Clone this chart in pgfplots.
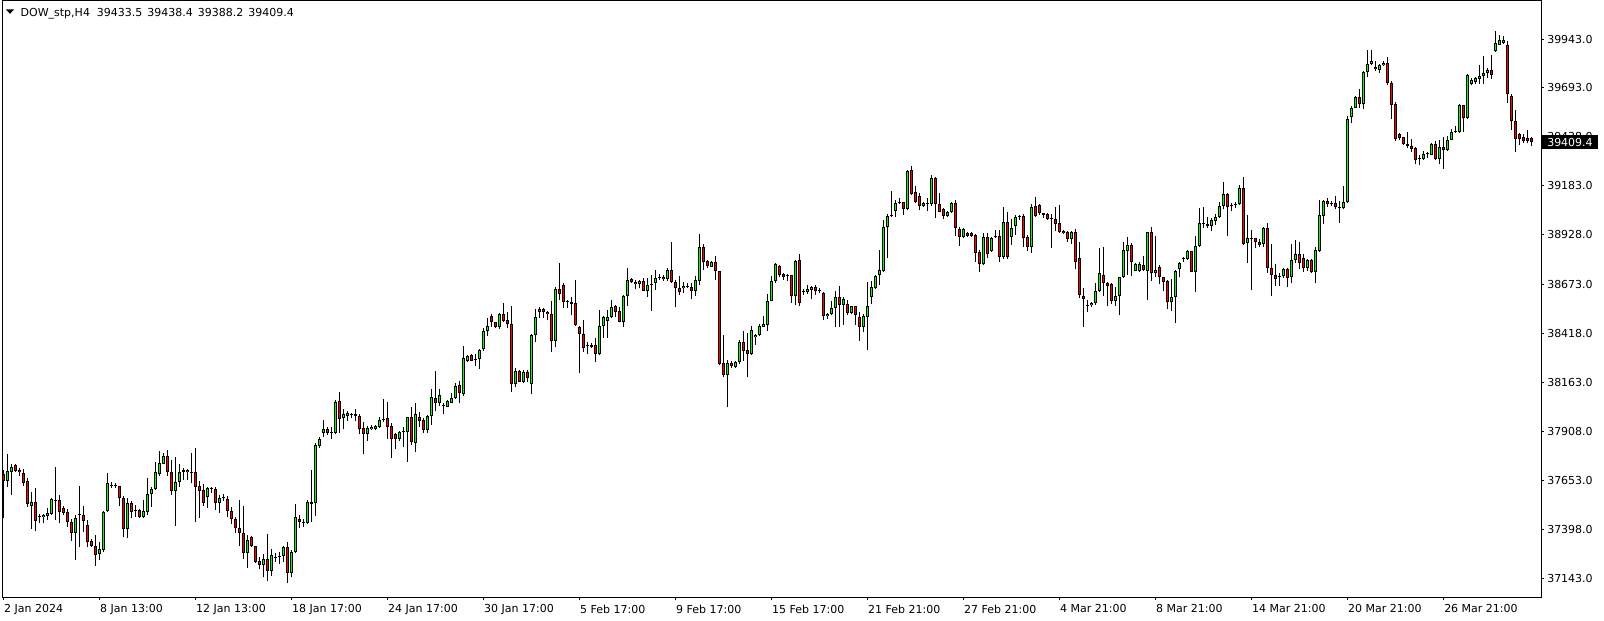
\documentclass[border=0pt]{standalone}
\usepackage{pgfplots}
\usepackage{pgfplotstable}
\usepackage{fontspec}
\setmainfont{DejaVu Sans}
\pgfplotsset{compat=1.18}
\definecolor{bull}{RGB}{0,255,0}
\definecolor{bear}{RGB}{255,0,0}
\pgfplotstableread{
i o h l c
0 37685 37705 37460 37652
1 37652 37790 37620 37702
2 37695 37736 37577 37721
3 37733 37738 37698 37704
4 37709 37716 37678 37695
5 37690 37712 37626 37641
6 37650 37664 37515 37529
7 37518 37591 37401 37539
8 37539 37612 37392 37444
9 37461 37478 37430 37468
10 37461 37477 37430 37473
11 37470 37511 37447 37484
12 37480 37563 37473 37558
13 37549 37723 37447 37549
14 37549 37577 37433 37487
15 37510 37522 37473 37485
16 37489 37504 37413 37435
17 37435 37452 37340 37382
18 37382 37473 37241 37456
19 37475 37624 37309 37475
20 37473 37522 37387 37444
21 37421 37449 37307 37335
22 37338 37349 37305 37311
23 37311 37369 37210 37267
24 37269 37335 37240 37295
25 37292 37494 37279 37491
26 37492 37691 37491 37638
27 37629 37646 37615 37629
28 37627 37638 37615 37627
29 37624 37624 37522 37560
30 37563 37574 37359 37399
31 37399 37563 37356 37534
32 37534 37546 37456 37491
33 37499 37525 37465 37499
34 37498 37505 37456 37465
35 37465 37551 37456 37494
36 37491 37664 37473 37581
37 37581 37621 37517 37608
38 37608 37747 37603 37695
39 37685 37807 37678 37743
40 37740 37794 37737 37778
41 37782 37811 37678 37695
42 37695 37759 37577 37600
43 37600 37776 37418 37647
44 37647 37738 37621 37695
45 37707 37716 37655 37698
46 37707 37711 37655 37695
47 37695 37797 37638 37695
48 37695 37820 37439 37621
49 37624 37650 37460 37600
50 37603 37633 37520 37537
51 37565 37617 37511 37612
52 37612 37621 37589 37607
53 37607 37617 37499 37537
54 37537 37577 37486 37563
55 37565 37581 37546 37565
56 37555 37572 37465 37496
57 37496 37517 37427 37451
58 37451 37465 37378 37404
59 37404 37551 37314 37382
60 37382 37520 37243 37274
61 37274 37370 37196 37344
62 37357 37366 37309 37312
63 37312 37314 37226 37231
64 37235 37257 37191 37212
65 37212 37271 37150 37243
66 37245 37375 37129 37184
67 37184 37295 37157 37266
68 37255 37274 37231 37255
69 37255 37280 37217 37262
70 37260 37314 37231 37305
71 37305 37331 37119 37174
72 37174 37292 37150 37280
73 37283 37531 37274 37461
74 37451 37473 37404 37439
75 37437 37451 37413 37437
76 37434 37551 37427 37539
77 37539 37707 37439 37529
78 37537 37846 37470 37837
79 37832 37877 37823 37866
80 37898 37967 37880 37918
81 37918 37932 37889 37898
82 37901 37929 37868 37901
83 37898 38071 37892 38062
84 38067 38110 37901 37970
85 37975 38022 37918 37998
86 37989 38015 37963 38003
87 37993 38005 37975 37993
88 37998 38022 37963 37988
89 37988 37998 37892 37918
90 37924 37955 37788 37892
91 37892 37936 37859 37927
92 37918 37941 37915 37929
93 37918 37941 37915 37936
94 37932 37981 37927 37967
95 37970 38076 37958 37970
96 37975 38059 37868 37932
97 37936 37949 37771 37866
98 37892 37898 37814 37870
99 37870 37911 37859 37903
100 37906 37929 37825 37906
101 37906 37984 37750 37981
102 37981 38036 37837 37851
103 37846 38053 37802 37996
104 37981 38010 37932 37963
105 37967 37975 37898 37915
106 37915 37993 37898 37988
107 37988 38128 37941 38084
108 38079 38221 38015 38053
109 38053 38128 38041 38095
110 38043 38053 37996 38043
111 38036 38071 38033 38065
112 38057 38105 38053 38079
113 38079 38157 38074 38143
114 38149 38171 38053 38105
115 38100 38351 38091 38287
116 38275 38304 38270 38299
117 38303 38310 38273 38275
118 38282 38308 38247 38282
119 38282 38336 38232 38330
120 38334 38446 38327 38429
121 38429 38495 38405 38455
122 38507 38517 38452 38474
123 38474 38477 38446 38448
124 38448 38524 38441 38516
125 38516 38573 38474 38483
126 38486 38526 38443 38464
127 38464 38561 38114 38152
128 38152 38235 38140 38221
129 38221 38226 38162 38166
130 38166 38226 38157 38218
131 38214 38226 38166 38183
132 38152 38412 38100 38408
133 38408 38543 38370 38503
134 38529 38555 38498 38542
135 38543 38550 38498 38526
136 38529 38533 38486 38516
137 38516 38585 38322 38377
138 38377 38659 38348 38647
139 38647 38780 38590 38623
140 38668 38677 38550 38581
141 38581 38590 38550 38581
142 38578 38607 38512 38571
143 38573 38694 38457 38460
144 38450 38457 38209 38412
145 38412 38486 38318 38342
146 38353 38370 38311 38353
147 38348 38365 38342 38356
148 38356 38391 38270 38308
149 38308 38538 38304 38455
150 38455 38507 38394 38500
151 38483 38538 38394 38500
152 38503 38590 38495 38555
153 38559 38564 38503 38529
154 38533 38555 38474 38477
155 38477 38616 38451 38611
156 38611 38754 38561 38694
157 38699 38706 38677 38685
158 38685 38692 38645 38671
159 38671 38694 38651 38690
160 38690 38702 38637 38638
161 38638 38702 38607 38668
162 38671 38720 38533 38671
163 38677 38746 38642 38706
164 38708 38723 38694 38708
165 38711 38720 38690 38697
166 38697 38754 38690 38746
167 38746 38893 38677 38682
168 38682 38694 38555 38651
169 38651 38716 38616 38630
170 38651 38685 38628 38663
171 38659 38678 38652 38659
172 38656 38678 38597 38638
173 38638 38713 38613 38692
174 38690 38933 38666 38865
175 38865 38881 38748 38786
176 38794 38799 38756 38765
177 38763 38794 38760 38787
178 38787 38817 38696 38739
179 38739 38742 38251 38258
180 38263 38410 38188 38199
181 38199 38280 38033 38263
182 38263 38271 38237 38246
183 38240 38275 38237 38268
184 38266 38384 38258 38370
185 38370 38427 38275 38323
186 38329 38419 38188 38311
187 38311 38453 38306 38432
188 38396 38413 38358 38408
189 38407 38465 38401 38457
190 38452 38505 38448 38465
191 38462 38621 38427 38583
192 38587 38713 38583 38687
193 38687 38782 38678 38777
194 38768 38770 38708 38722
195 38725 38729 38696 38709
196 38716 38725 38690 38716
197 38722 38722 38574 38609
198 38609 38799 38562 38794
199 38798 38829 38561 38574
200 38635 38649 38618 38635
201 38630 38666 38621 38647
202 38644 38661 38595 38656
203 38656 38670 38618 38635
204 38638 38652 38626 38638
205 38626 38630 38488 38505
206 38505 38522 38493 38517
207 38517 38583 38510 38548
208 38548 38638 38448 38606
209 38606 38664 38452 38566
210 38566 38604 38462 38597
211 38569 38592 38510 38522
212 38522 38561 38517 38557
213 38557 38561 38462 38510
214 38503 38529 38379 38448
215 38448 38516 38422 38509
216 38503 38682 38330 38561
217 38607 38689 38569 38656
218 38651 38720 38647 38716
219 38720 38850 38668 38746
220 38742 39005 38734 38967
221 38967 39035 38810 39028
222 39031 39156 39019 39031
223 39054 39109 39023 39092
224 39092 39118 39089 39101
225 39097 39101 39031 39063
226 39063 39265 39057 39262
227 39265 39286 39135 39140
228 39149 39184 39092 39101
229 39130 39144 39057 39080
230 39080 39097 39075 39092
231 39089 39121 39054 39089
232 39087 39239 39080 39222
233 39225 39231 39018 39087
234 39089 39144 39045 39049
235 39063 39070 39011 39028
236 39028 39052 39023 39045
237 39045 39101 39042 39092
238 39092 39109 38924 38962
239 38959 38971 38872 38919
240 38919 38962 38910 38959
241 38938 38945 38919 38924
242 38936 38945 38919 38924
243 38928 38931 38789 38836
244 38838 38850 38737 38775
245 38775 38936 38772 38915
246 38915 38936 38806 38827
247 38846 38919 38838 38910
248 38922 38954 38914 38922
249 38922 38954 38786 38812
250 38812 39075 38803 38993
251 38993 39049 38803 38815
252 38915 39009 38876 38962
253 38974 39031 38928 39023
254 39026 39031 39005 39026
255 39026 39035 38867 38914
256 38915 38928 38844 38864
257 38864 39087 38836 39071
258 39078 39123 39023 39028
259 39083 39087 39031 39040
260 39040 39044 39018 39031
261 39035 39044 39006 39009
262 39011 39035 38858 39011
263 39011 39071 38948 38986
264 38988 39083 38936 38945
265 38950 38954 38931 38936
266 38945 38948 38893 38907
267 38905 38948 38879 38945
268 38945 38959 38749 38789
269 38806 38893 38602 38616
270 38611 38654 38452 38593
271 38564 38590 38529 38564
272 38564 38581 38555 38576
273 38573 38677 38564 38637
274 38637 38858 38633 38728
275 38720 38867 38613 38677
276 38680 38685 38559 38664
277 38673 38680 38568 38585
278 38585 38659 38561 38611
279 38613 38711 38512 38708
280 38708 38893 38703 38850
281 38846 38919 38720 38876
282 38876 38884 38715 38789
283 38742 38780 38741 38777
284 38741 38786 38737 38777
285 38772 38820 38741 38746
286 38742 38945 38590 38941
287 38941 38971 38689 38728
288 38728 38924 38711 38744
289 38760 38772 38673 38708
290 38708 38711 38637 38685
291 38689 38694 38543 38581
292 38581 38697 38535 38604
293 38604 38746 38472 38742
294 38749 38789 38708 38780
295 38803 38815 38789 38803
296 38801 38850 38798 38844
297 38844 38844 38734 38737
298 38737 38924 38633 38870
299 38870 39066 38867 38988
300 38988 39075 38962 38988
301 38983 39023 38962 38976
302 38976 39014 38950 39005
303 39002 39037 38980 39019
304 39019 39097 39014 39078
305 39080 39201 39061 39139
306 39139 39144 38924 39071
307 39083 39092 39054 39083
308 39085 39097 39066 39090
309 39089 39187 39083 39170
310 39170 39231 38876 38881
311 38884 39031 38784 38910
312 38907 38954 38640 38907
313 38910 38914 38858 38890
314 38893 38905 38867 38877
315 38881 38971 38864 38962
316 38962 38992 38729 38758
317 38754 38881 38613 38720
318 38720 38777 38663 38697
319 38708 38729 38664 38715
320 38715 38754 38703 38749
321 38749 38754 38656 38706
322 38708 38881 38677 38798
323 38798 38902 38780 38827
324 38827 38893 38749 38780
325 38806 38829 38737 38754
326 38754 38801 38742 38798
327 38798 38801 38729 38734
328 38734 38867 38680 38850
329 38846 39109 38841 39031
330 39028 39109 38985 39104
331 39104 39118 39075 39087
332 39096 39104 39080 39087
333 39092 39130 39061 39071
334 39070 39104 38992 39070
335 39066 39182 39061 39097
336 39097 39546 39092 39530
337 39539 39598 39511 39585
338 39589 39650 39585 39643
339 39643 39686 39585 39606
340 39606 39781 39582 39776
341 39776 39888 39750 39814
342 39814 39887 39809 39829
343 39800 39829 39778 39788
344 39783 39817 39771 39809
345 39809 39829 39805 39823
346 39821 39852 39705 39719
347 39719 39726 39528 39604
348 39610 39618 39416 39428
349 39450 39457 39419 39431
350 39436 39436 39393 39398
351 39398 39464 39381 39388
352 39390 39428 39359 39376
353 39379 39385 39298 39319
354 39324 39341 39289 39324
355 39324 39362 39319 39350
356 39346 39359 39327 39353
357 39345 39407 39341 39402
358 39402 39414 39319 39324
359 39324 39419 39298 39385
360 39385 39436 39272 39367
361 39367 39442 39362 39423
362 39423 39476 39419 39462
363 39462 39494 39459 39466
364 39462 39610 39459 39601
365 39601 39604 39462 39535
366 39535 39765 39528 39757
367 39710 39743 39705 39731
368 39722 39748 39713 39743
369 39739 39809 39713 39753
370 39753 39855 39713 39771
371 39771 39795 39743 39783
372 39783 39861 39739 39760
373 39881 39985 39878 39925
374 39916 39965 39913 39939
375 39926 39959 39918 39940
376 39912 39936 39613 39659
377 39650 39659 39475 39517
378 39517 39578 39360 39428
379 39453 39459 39397 39428
380 39434 39453 39403 39414
381 39432 39473 39403 39414
382 39433.5 39438.4 39388.2 39409.4
}\candles
% build one path per layer from the table (wicks, body outlines, bull and bear fills)
\def\wickcoords{}\def\bodycoords{}\def\bullcoords{}\def\bearcoords{}
\pgfplotsforeachungrouped \k in {0,...,382}{%
  \pgfplotstablegetelem{\k}{o}\of\candles \let\O\pgfplotsretval
  \pgfplotstablegetelem{\k}{h}\of\candles \let\H\pgfplotsretval
  \pgfplotstablegetelem{\k}{l}\of\candles \let\L\pgfplotsretval
  \pgfplotstablegetelem{\k}{c}\of\candles \let\C\pgfplotsretval
  \edef\wickcoords{\wickcoords (\k,\L) (\k,\H) (\k,nan)}%
  \edef\lo{\fpeval{min(\O,\C)}}%
  \edef\hi{\fpeval{max(\O,\C)}}%
  \ifnum\fpeval{\hi-\lo<5.2}=1
    \edef\bodycoords{\bodycoords (\k,\fpeval{(\lo+\hi)/2-2.6}) (\k,\fpeval{(\lo+\hi)/2+2.6}) (\k,nan)}%
  \else
    \edef\bodycoords{\bodycoords (\k,\lo) (\k,\hi) (\k,nan)}%
  \fi
  \ifnum\fpeval{\hi-\lo>10.4}=1
    \ifnum\fpeval{\C>\O}=1
      \edef\bullcoords{\bullcoords (\k,\fpeval{\lo+5.19}) (\k,\fpeval{\hi-5.19}) (\k,nan)}%
    \else
      \edef\bearcoords{\bearcoords (\k,\fpeval{\lo+5.19}) (\k,\fpeval{\hi-5.19}) (\k,nan)}%
    \fi
  \fi
}
\begin{document}
\begin{tikzpicture}[x=1bp,y=1bp]
\useasboundingbox[fill=white] (0,0) rectangle (1604,-621);
\begin{axis}[
  at={(2.5bp,-1bp)}, anchor=north west,
  width=1538.5bp, height=596bp, scale only axis,
  xmin=-0.25, xmax=384.375, ymin=37047.5, ymax=40142.8,
  axis line style={black, line width=1bp},
  tick style={black, line width=1bp},
  major tick length=3bp,
  tick align=outside,
  xtick pos=left, ytick pos=right, yticklabel pos=right,
  xtick={0,24,...,360},
  xticklabels={2 Jan 2024, 8 Jan 13:00, 12 Jan 13:00, 18 Jan 17:00, 24 Jan 17:00, 30 Jan 17:00, 5 Feb 17:00, 9 Feb 17:00, 15 Feb 17:00, 21 Feb 21:00, 27 Feb 21:00, 4 Mar 21:00, 8 Mar 21:00, 14 Mar 21:00, 20 Mar 21:00, 26 Mar 21:00},
  ytick={37143,37398,37653,37908,38163,38418,38673,38928,39183,39438,39693,39943},
  yticklabels={37143.0,37398.0,37653.0,37908.0,38163.0,38418.0,38673.0,38928.0,39183.0,39438.0,39693.0,39943.0},
  ticklabel style={font=\fontsize{11bp}{13bp}\selectfont},
  xticklabel style={anchor=north west, inner sep=0pt, yshift=-4.5bp, xshift=0.5bp},
  yticklabel style={anchor=west, inner sep=0pt, xshift=3bp},
  unbounded coords=jump,
]
\edef\tmp{\noexpand\addplot[black, line width=1bp, mark=none] coordinates {\wickcoords};}\tmp
\edef\tmp{\noexpand\addplot[black, line width=3bp, mark=none] coordinates {\bodycoords};}\tmp
\edef\tmp{\noexpand\addplot[bull, line width=1bp, mark=none] coordinates {\bullcoords};}\tmp
\edef\tmp{\noexpand\addplot[bear, line width=1bp, mark=none] coordinates {\bearcoords};}\tmp
\coordinate (cp) at (axis cs:384.375,39409.4);
\end{axis}
\node[fill=black, text=white, anchor=west, inner xsep=5.5bp, inner ysep=3bp, text height=8bp, text depth=0pt, font=\fontsize{11bp}{13bp}\selectfont] at ([xshift=0.5bp]cp) {39409.4};
\fill[black] (6,-9.5) -- (14,-9.5) -- (10,-13.8) -- cycle;
\node[anchor=base west, inner sep=0pt, font=\fontsize{11bp}{13bp}\selectfont] at (20.5,-16.3) {DOW\_stp,H4\hspace{3.5bp} 39433.5\hspace{1.5bp} 39438.4\hspace{1.5bp} 39388.2\hspace{1.5bp} 39409.4};
\end{tikzpicture}
\end{document}
